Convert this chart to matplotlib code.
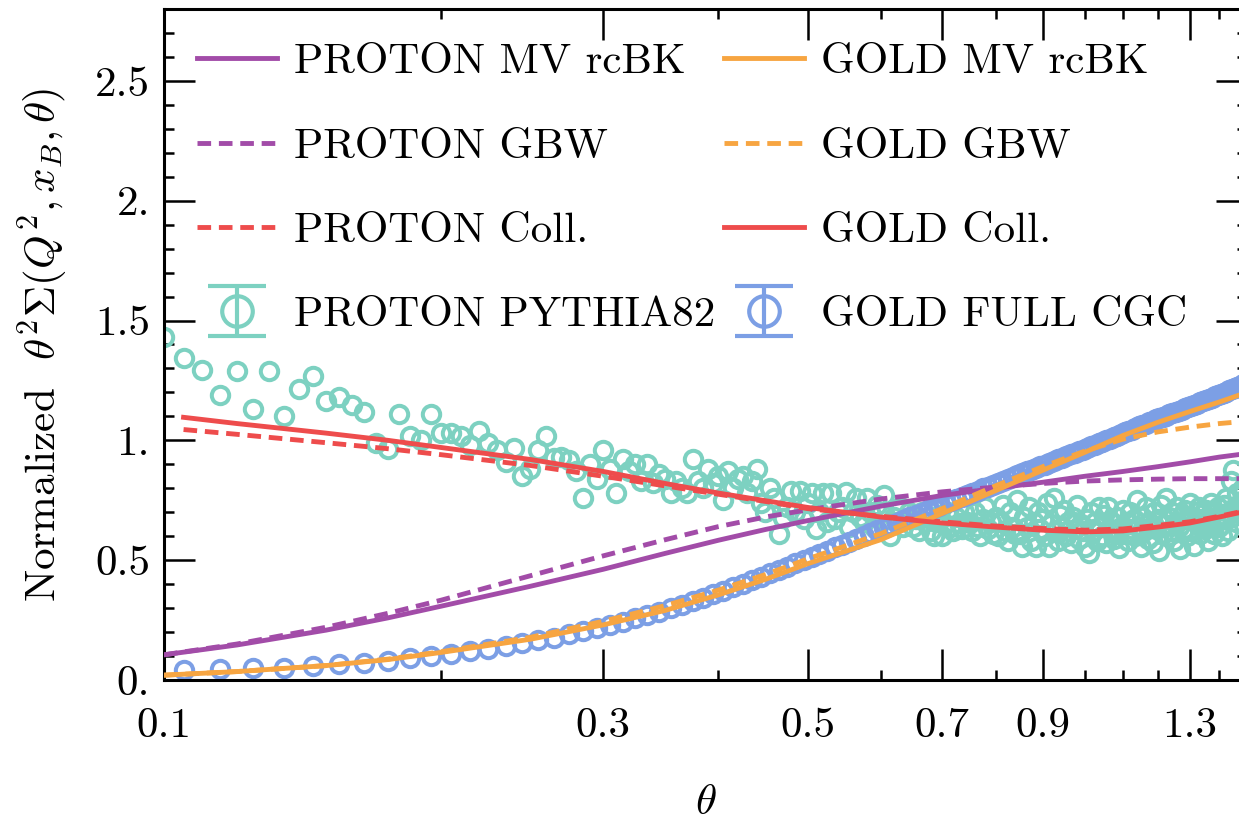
import numpy as np
import matplotlib.pyplot as plt
from matplotlib.ticker import FixedLocator, FixedFormatter
from matplotlib.container import ErrorbarContainer
from matplotlib.legend_handler import HandlerErrorbar

plt.rcParams['font.family'] = ['cmr10']
plt.rcParams['mathtext.fontset'] = 'cm'
plt.rcParams['axes.unicode_minus'] = False

# theory curves
theta_curve = [0.1, 0.12, 0.15, 0.175, 0.2, 0.25, 0.3, 0.35, 0.4, 0.45, 0.5,
               0.6, 0.7, 0.8, 0.9, 1.0, 1.1, 1.2, 1.3, 1.4, 1.5]
theta_red = [0.105] + theta_curve[1:]

proton_mv = [0.105, 0.146, 0.208, 0.259, 0.308, 0.391, 0.462, 0.528, 0.583, 0.628, 0.665,
             0.725, 0.77, 0.80, 0.825, 0.85, 0.87, 0.89, 0.91, 0.93, 0.945]
proton_gbw = [0.105, 0.15, 0.22, 0.278, 0.333, 0.435, 0.518, 0.585, 0.64, 0.68, 0.71,
              0.755, 0.785, 0.805, 0.82, 0.83, 0.835, 0.838, 0.84, 0.84, 0.84]
proton_coll = [1.045, 1.025, 0.99, 0.965, 0.94, 0.895, 0.85, 0.81, 0.775, 0.745, 0.715,
               0.683, 0.66, 0.642, 0.632, 0.625, 0.63, 0.645, 0.66, 0.683, 0.708]
gold_mv = [0.02, 0.035, 0.06, 0.085, 0.115, 0.17, 0.23, 0.29, 0.355, 0.42, 0.485,
           0.585, 0.695, 0.79, 0.875, 0.95, 1.02, 1.075, 1.12, 1.16, 1.20]
gold_gbw = [0.02, 0.035, 0.06, 0.087, 0.118, 0.178, 0.245, 0.31, 0.375, 0.44, 0.505,
            0.61, 0.715, 0.81, 0.89, 0.955, 1.005, 1.035, 1.055, 1.07, 1.08]
gold_coll = [1.096, 1.07, 1.03, 1.0, 0.97, 0.92, 0.87, 0.82, 0.78, 0.748, 0.72,
             0.68, 0.655, 0.638, 0.625, 0.618, 0.622, 0.638, 0.655, 0.68, 0.705]

# PYTHIA8.2 proton points, bins of 0.005 from 0.100
theta_pythia = np.round(np.arange(0.100, 1.5001, 0.005), 3)
pythia = [
    1.43, 1.345, 1.295, 1.19, 1.29, 1.13, 1.29, 1.10, 1.215, 1.27,
    1.165, 1.18, 1.146, 1.12, 0.99, 0.965, 1.11, 1.02, 1.00, 1.11,
    1.03, 1.03, 1.02, 0.98, 1.04, 0.99, 0.96, 0.91, 0.97, 0.85,
    0.88, 0.96, 1.02, 0.925, 0.93, 0.917, 0.87, 0.76, 0.90, 0.84,
    0.96, 0.88, 0.78, 0.92, 0.87, 0.90, 0.83, 0.90, 0.82, 0.86,
    0.84, 0.78, 0.83, 0.80, 0.78, 0.92, 0.83, 0.80, 0.88, 0.82,
    0.85, 0.75, 0.87, 0.80, 0.84, 0.85, 0.78, 0.83, 0.88, 0.74,
    0.70, 0.80, 0.76, 0.61, 0.675, 0.72, 0.79, 0.70, 0.79, 0.67,
    0.74, 0.78, 0.63, 0.70, 0.78, 0.66, 0.78, 0.67, 0.70, 0.72,
    0.785, 0.64, 0.70, 0.76, 0.68, 0.66, 0.76, 0.70, 0.64, 0.73,
    0.70, 0.77, 0.64, 0.60, 0.68, 0.66, 0.72, 0.64, 0.67, 0.70,
    0.64, 0.67, 0.62, 0.70, 0.66, 0.68, 0.62, 0.60, 0.66, 0.69,
    0.60, 0.65, 0.70, 0.64, 0.62, 0.68, 0.655, 0.63, 0.70, 0.66,
    0.655, 0.62, 0.70, 0.64, 0.60, 0.67, 0.72, 0.63, 0.66, 0.61,
    0.68, 0.60, 0.66, 0.73, 0.62, 0.58, 0.70, 0.64, 0.61, 0.75,
    0.61, 0.555, 0.68, 0.64, 0.72, 0.58, 0.66, 0.555, 0.70, 0.63,
    0.67, 0.60, 0.74, 0.555, 0.65, 0.76, 0.62, 0.58, 0.69, 0.64,
    0.71, 0.60, 0.66, 0.57, 0.68, 0.63, 0.73, 0.59, 0.65, 0.62,
    0.555, 0.67, 0.53, 0.70, 0.62, 0.66, 0.58, 0.72, 0.64, 0.60,
    0.69, 0.57, 0.72, 0.63, 0.66, 0.59, 0.61, 0.68, 0.55, 0.64,
    0.71, 0.61, 0.66, 0.58, 0.70, 0.63, 0.67, 0.60, 0.75, 0.64,
    0.555, 0.68, 0.62, 0.72, 0.59, 0.66, 0.64, 0.57, 0.70, 0.63,
    0.67, 0.54, 0.73, 0.61, 0.65, 0.76, 0.60, 0.68, 0.62, 0.70,
    0.58, 0.66, 0.72, 0.64, 0.545, 0.69, 0.63, 0.71, 0.60, 0.67,
    0.74, 0.62, 0.68, 0.56, 0.70, 0.65, 0.72, 0.61, 0.67, 0.695,
    0.63, 0.71, 0.58, 0.68, 0.74, 0.64, 0.61, 0.70, 0.66, 0.72,
    0.64, 0.69, 0.60, 0.73, 0.67, 0.76, 0.62, 0.70, 0.83, 0.68,
    0.875, 0.72, 0.66, 0.78, 0.70, 0.74, 0.69, 0.80, 0.71, 0.76, 0.73,
]

# full CGC gold points, bins of 0.01 centred at 0.105 ...
theta_cgc = np.round(np.arange(0.105, 1.4951, 0.01), 3)
cgc = [
    0.042, 0.045, 0.048, 0.052, 0.058, 0.065, 0.072, 0.080, 0.090, 0.100,
    0.110, 0.120, 0.131, 0.142, 0.153, 0.165, 0.177, 0.190, 0.203, 0.216,
    0.229, 0.243, 0.257, 0.271, 0.285, 0.299, 0.313, 0.328, 0.342, 0.357,
    0.372, 0.386, 0.401, 0.416, 0.430, 0.445, 0.459, 0.473, 0.487, 0.501,
    0.514, 0.527, 0.540, 0.553, 0.565, 0.577, 0.589, 0.601, 0.612, 0.624,
    0.635, 0.646, 0.657, 0.667, 0.678, 0.688, 0.698, 0.708, 0.718, 0.727,
    0.737, 0.746, 0.755, 0.764, 0.773, 0.782, 0.790, 0.799, 0.807, 0.815,
    0.823, 0.831, 0.839, 0.847, 0.855, 0.862, 0.870, 0.877, 0.885, 0.892,
    0.899, 0.906, 0.913, 0.920, 0.927, 0.934, 0.941, 0.948, 0.955, 0.961,
    0.968, 0.975, 0.981, 0.988, 0.994, 1.001, 1.007, 1.014, 1.020, 1.026,
    1.033, 1.039, 1.045, 1.051, 1.058, 1.064, 1.070, 1.076, 1.082, 1.088,
    1.092, 1.098, 1.103, 1.108, 1.113, 1.118, 1.123, 1.128, 1.133, 1.138,
    1.143, 1.148, 1.153, 1.158, 1.163, 1.168, 1.173, 1.178, 1.183, 1.188,
    1.193, 1.198, 1.203, 1.208, 1.213, 1.218, 1.223, 1.228, 1.233, 1.238,
]

x_ticks = [0.1, 0.3, 0.5, 0.7, 0.9, 1.3]
x_ticklabels = ['0.1', '0.3', '0.5', '0.7', '0.9', '1.3']
x_minor = [0.2, 0.4, 0.6, 0.8, 1.0, 1.1, 1.2, 1.4]
y_ticks = [0, 0.5, 1.0, 1.5, 2.0, 2.5]
y_ticklabels = ['0.', '0.5', '1.', '1.5', '2.', '2.5']

purple = '#A24CA8'
orange = '#F7A541'
red = '#EE4C4C'
teal = '#7DD1C1'
blue = '#7C9FE5'
fs = 31
lw = 3.5
dash = (0, (2.8, 1.6))

fig = plt.figure(figsize=(12.39, 8.23), dpi=100)
ax = fig.add_axes([0.1324, 0.1738, 0.874, 0.8153])
ax.set_xscale('log')

# points first, curves on top
ax.plot(theta_pythia, pythia, 'o', ms=12.5, mfc='none', mec=teal, mew=2.9, zorder=2)
ax.plot(theta_cgc, cgc, 'o', ms=12.5, mfc='none', mec=blue, mew=2.9, zorder=2.1)

l1, = ax.plot(theta_curve, proton_mv, color=purple, lw=lw, zorder=3)
l2, = ax.plot(theta_curve, proton_gbw, color=purple, lw=lw, ls=dash, zorder=3)
l3, = ax.plot(theta_red, proton_coll, color=red, lw=lw, ls=dash, zorder=3)
l5, = ax.plot(theta_curve, gold_mv, color=orange, lw=lw, zorder=3)
l6, = ax.plot(theta_curve, gold_gbw, color=orange, lw=lw, ls=dash, zorder=3)
l7, = ax.plot(theta_red, gold_coll, color=red, lw=lw, zorder=3)

# legend proxies for the point sets (error bar style handle)
e4 = ax.errorbar([np.nan], [np.nan], yerr=[0.1], fmt='o', ms=22, mfc='none', mec=teal,
                 mew=3, ecolor=teal, elinewidth=3, capsize=21, capthick=3)
e8 = ax.errorbar([np.nan], [np.nan], yerr=[0.1], fmt='o', ms=22, mfc='none', mec=blue,
                 mew=3, ecolor=blue, elinewidth=3, capsize=21, capthick=3)

handles = [l1, l2, l3, e4, l5, l6, l7, e8]
labels = ['PROTON MV rcBK', 'PROTON GBW', 'PROTON Coll.', 'PROTON PYTHIA82',
          'GOLD MV rcBK', 'GOLD GBW', 'GOLD Coll.', 'GOLD FULL CGC']
ax.legend(handles, labels, ncol=2, loc='upper left', bbox_to_anchor=(-0.009, 1.013),
          frameon=False, fontsize=fs, handlelength=1.85, handletextpad=0.4,
          columnspacing=0.2, labelspacing=1.07, borderaxespad=0.6,
          handler_map={ErrorbarContainer: HandlerErrorbar(xerr_size=0.6, yerr_size=0.58)})

ax.set_xlim(0.1, 1.5)
ax.set_ylim(0, 2.8)
ax.xaxis.set_major_locator(FixedLocator(x_ticks))
ax.xaxis.set_major_formatter(FixedFormatter(x_ticklabels))
ax.xaxis.set_minor_locator(FixedLocator(x_minor))
ax.xaxis.set_minor_formatter(FixedFormatter([''] * len(x_minor)))
ax.yaxis.set_major_locator(FixedLocator(y_ticks))
ax.yaxis.set_major_formatter(FixedFormatter(y_ticklabels))
ax.yaxis.set_minor_locator(FixedLocator(np.arange(0.1, 2.8, 0.1)))

ax.tick_params(which='both', direction='in', top=True, right=True, labelsize=fs,
               width=1.8, pad=10)
ax.tick_params(axis='x', which='both', pad=20)
ax.tick_params(which='major', length=22)
ax.tick_params(which='minor', length=7.5)
for s in ax.spines.values():
    s.set_linewidth(2.2)

ax.set_xlabel(r'$\theta$', fontsize=fs, labelpad=28)
ax.set_ylabel(r'Normalized  $\theta^2\Sigma(Q^2,x_B,\theta)$', fontsize=fs, labelpad=18)

fig.savefig('out.png', dpi=100)
